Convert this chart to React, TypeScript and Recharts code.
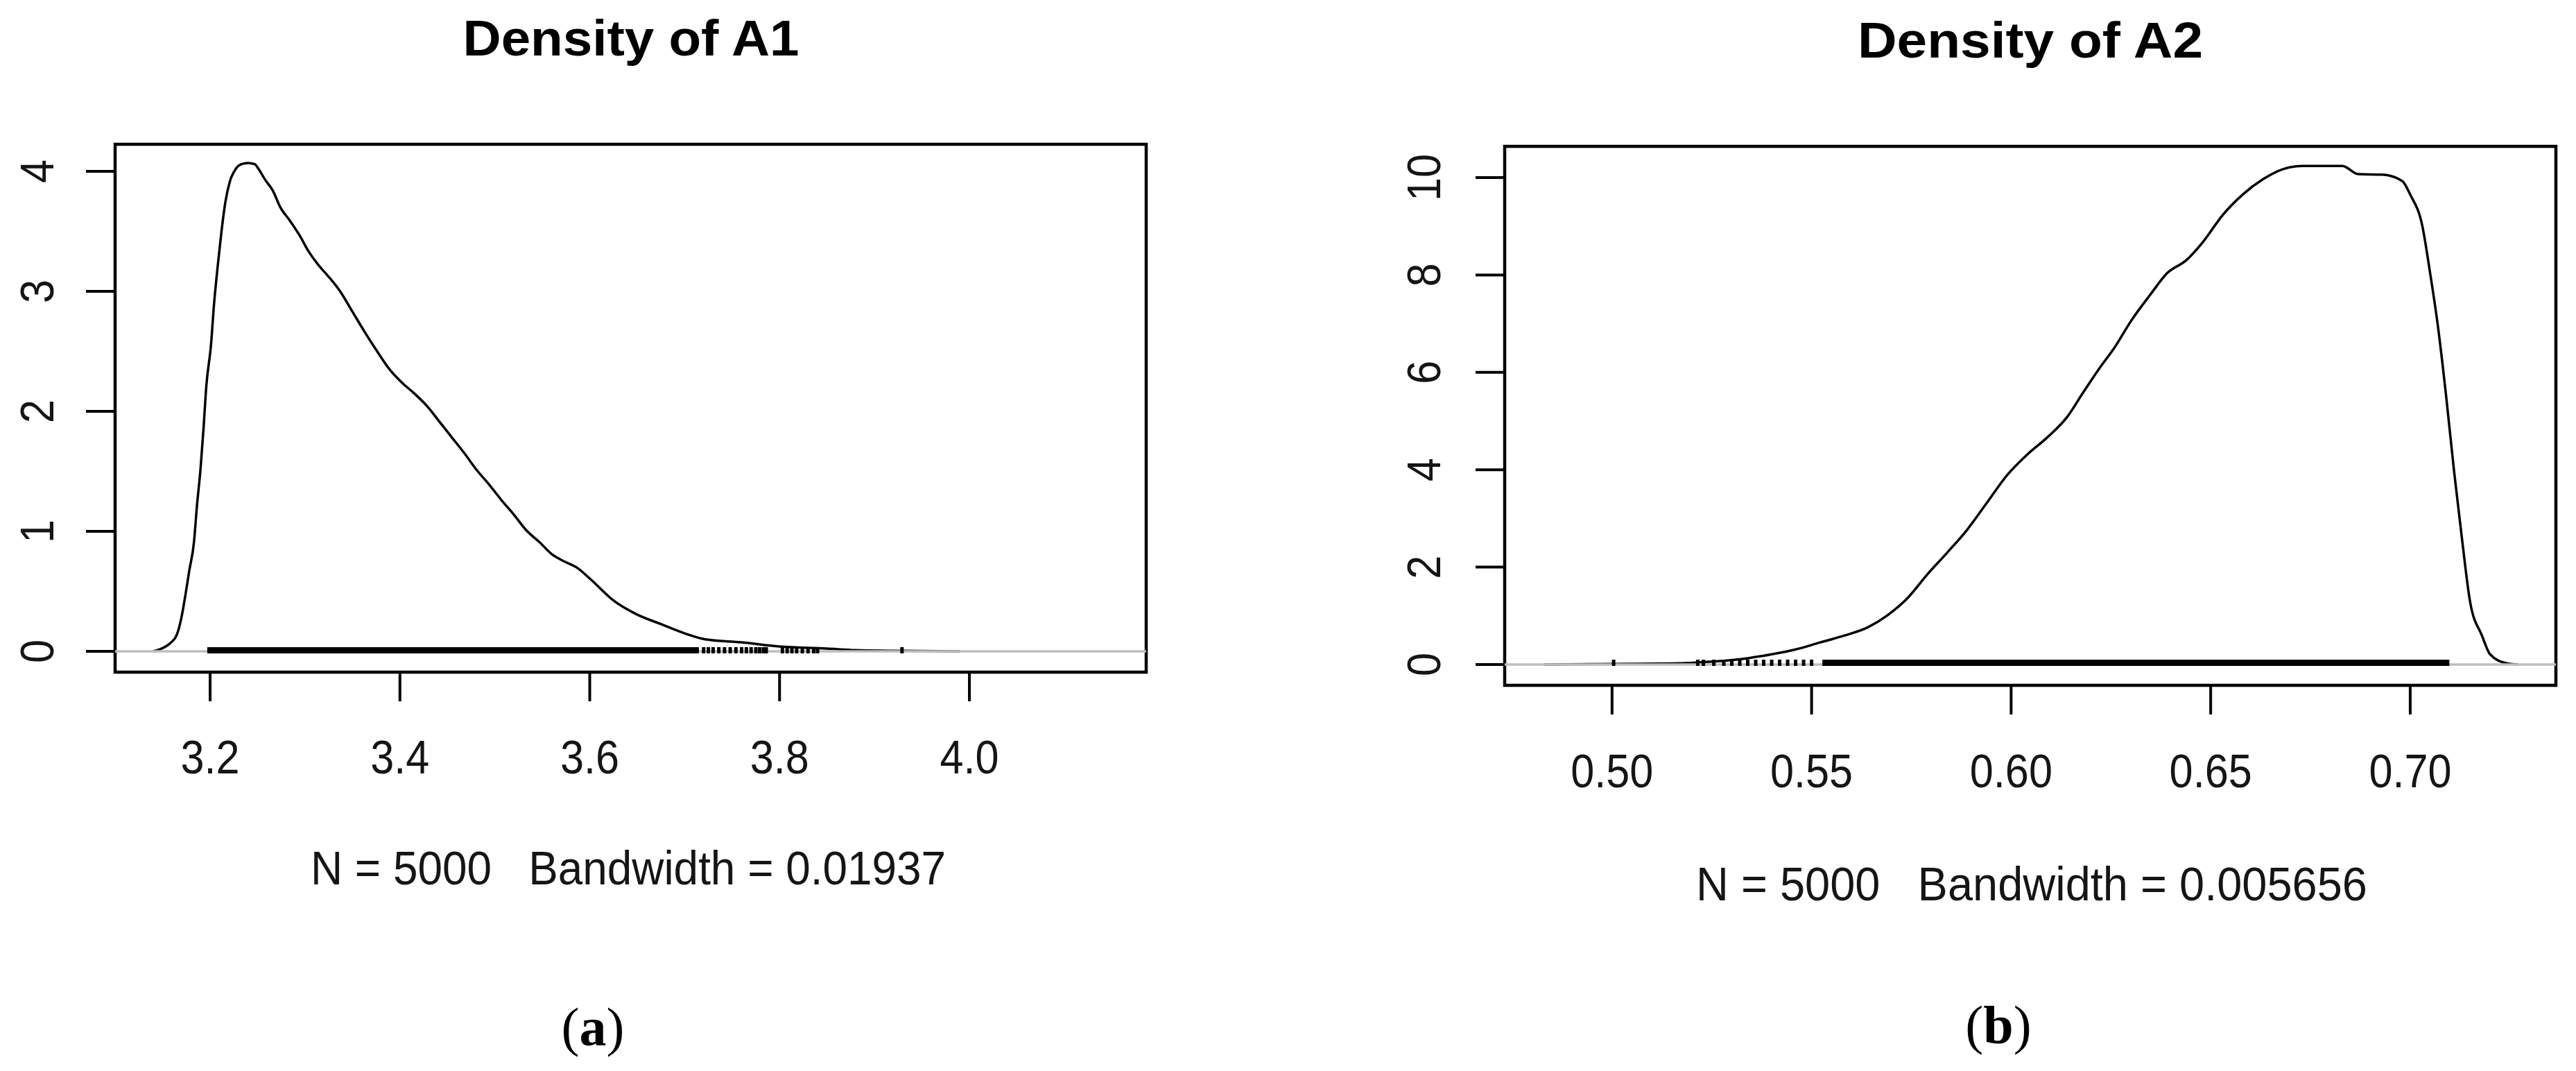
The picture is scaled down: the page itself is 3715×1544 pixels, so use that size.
import React from 'react';
import { LineChart, Line, XAxis, YAxis, ReferenceArea, ReferenceLine } from 'recharts';

// ---------- Data: Density of A1 ----------
const a1X = [3.14, 3.149, 3.158, 3.165, 3.17, 3.174, 3.178, 3.183, 3.186, 3.19, 3.193, 3.196, 3.201, 3.204, 3.208, 3.212, 3.216, 3.221, 3.227, 3.233, 3.24, 3.247, 3.251, 3.258, 3.266, 3.274, 3.284, 3.294, 3.304, 3.314, 3.324, 3.337, 3.35, 3.363, 3.376, 3.389, 3.402, 3.415, 3.429, 3.442, 3.455, 3.468, 3.481, 3.494, 3.507, 3.52, 3.533, 3.547, 3.56, 3.573, 3.586, 3.601, 3.624, 3.649, 3.674, 3.7, 3.722, 3.76, 3.8, 3.85, 3.88, 3.93, 3.99];
const a1Y = [0, 0.024, 0.068, 0.14, 0.29, 0.47, 0.67, 0.91, 1.2, 1.53, 1.85, 2.21, 2.56, 2.88, 3.21, 3.5, 3.74, 3.92, 4.02, 4.06, 4.07, 4.06, 4.02, 3.93, 3.84, 3.7, 3.59, 3.47, 3.33, 3.22, 3.13, 3.0, 2.83, 2.66, 2.5, 2.35, 2.24, 2.15, 2.04, 1.91, 1.78, 1.65, 1.51, 1.39, 1.26, 1.14, 1.01, 0.91, 0.81, 0.75, 0.7, 0.6, 0.43, 0.31, 0.23, 0.15, 0.1, 0.075, 0.04, 0.023, 0.01, 0.004, 0];
const a1XTicks = [3.2, 3.4, 3.6, 3.8, 4.0];
const a1YTicks = [0, 1, 2, 3, 4];
const a1XDomain = [3.0999, 4.1863];
const a1YDomain = [-0.1734, 4.2254];
const a1RugBand = [3.197, 3.715];
const a1RugTicks = [3.72, 3.725, 3.73, 3.736, 3.742, 3.748, 3.754, 3.76, 3.765, 3.77, 3.775, 3.779, 3.783, 3.786, 3.803, 3.808, 3.813, 3.818, 3.824, 3.83, 3.836, 3.84, 3.929];
const a1RugSpan = [-0.017, 0.035];

// ---------- Data: Density of A2 ----------
const a2X = [0.483, 0.5, 0.515, 0.525, 0.534, 0.54, 0.546, 0.552, 0.558, 0.564, 0.569, 0.574, 0.579, 0.584, 0.589, 0.594, 0.599, 0.604, 0.609, 0.614, 0.618, 0.622, 0.626, 0.63, 0.635, 0.639, 0.644, 0.648, 0.653, 0.658, 0.663, 0.668, 0.673, 0.683, 0.687, 0.693, 0.698, 0.7, 0.703, 0.705, 0.707, 0.709, 0.711, 0.713, 0.715, 0.718, 0.72, 0.724, 0.727];
const a2Y = [0, 0.01, 0.02, 0.06, 0.13, 0.21, 0.31, 0.45, 0.59, 0.76, 1.01, 1.36, 1.85, 2.3, 2.77, 3.33, 3.89, 4.31, 4.66, 5.08, 5.58, 6.07, 6.52, 7.05, 7.61, 8.03, 8.31, 8.67, 9.23, 9.65, 9.96, 10.17, 10.24, 10.24, 10.07, 10.06, 9.93, 9.65, 9.02, 8.03, 6.91, 5.51, 3.96, 2.56, 1.29, 0.59, 0.21, 0.03, 0];
const a2XTicks = [0.5, 0.55, 0.6, 0.65, 0.7];
const a2YTicks = [0, 2, 4, 6, 8, 10];
const a2XDomain = [0.4731, 0.7365];
const a2YDomain = [-0.427, 10.641];
const a2RugBand = [0.5527, 0.7098];
const a2RugTicks = [0.5004, 0.5215, 0.5229, 0.5255, 0.528, 0.53, 0.532, 0.534, 0.536, 0.538, 0.54, 0.542, 0.544, 0.546, 0.548, 0.55];
const a2RugSpan = [-0.028, 0.1];

const SANS = '"Liberation Sans", Arial, Helvetica, sans-serif';
const SERIF = '"Liberation Serif", "Times New Roman", serif';

type PanelProps = {
  xs: number[];
  ys: number[];
  xDomain: number[];
  yDomain: number[];
  xTicks: number[];
  yTicks: number[];
  rugBand: number[];
  rugTicks: number[];
  rugSpan: number[];
  fmtX: (v: number) => string;
  left: number;
  width: number;
  height: number;
  margin: { top: number; right: number; bottom: number; left: number };
  yAxisWidth: number;
  xAxisHeight: number;
  xLabelBaseline: number;
  yLabelCenterX: number;
};

function Panel(p: PanelProps) {
  const data = p.xs.map((x, i) => ({ x, y: p.ys[i] }));
  const plotH = p.height - p.margin.top - p.margin.bottom - p.xAxisHeight;
  const pxPerUnit = plotH / (p.yDomain[1] - p.yDomain[0]);
  const bandMid = (p.rugSpan[0] + p.rugSpan[1]) / 2;
  const bandPx = (p.rugSpan[1] - p.rugSpan[0]) * pxPerUnit;
  const XTick = (t: any) => (
    <text
      transform={`translate(${t.x},${p.xLabelBaseline}) scale(0.9,1)`}
      textAnchor="middle"
      fontSize={68}
      fontFamily={SANS}
      fill="#151515"
    >
      {p.fmtX(t.payload.value)}
    </text>
  );
  const YTick = (t: any) => (
    <text
      transform={`translate(${p.yLabelCenterX},${t.y}) rotate(-90) scale(0.9,1)`}
      textAnchor="middle"
      y={24}
      fontSize={68}
      fontFamily={SANS}
      fill="#151515"
    >
      {String(t.payload.value)}
    </text>
  );
  return (
    <div style={{ position: 'absolute', left: p.left, top: 0 }}>
      <LineChart width={p.width} height={p.height} data={data} margin={p.margin}>
        <XAxis
          dataKey="x"
          type="number"
          domain={p.xDomain}
          allowDataOverflow
          ticks={p.xTicks}
          interval={0}
          height={p.xAxisHeight}
          tickSize={42}
          axisLine={false}
          tickLine={{ stroke: '#000', strokeWidth: 4 }}
          tick={XTick}
        />
        <YAxis
          type="number"
          domain={p.yDomain}
          allowDataOverflow
          ticks={p.yTicks}
          interval={0}
          width={p.yAxisWidth}
          tickSize={42}
          axisLine={false}
          tickLine={{ stroke: '#000', strokeWidth: 4 }}
          tick={YTick}
        />
        <Line
          dataKey="y"
          type="monotone"
          stroke="#000"
          strokeWidth={3.5}
          dot={false}
          activeDot={false}
          isAnimationActive={false}
        />
        <ReferenceLine y={0} stroke="#BEBEBE" strokeWidth={3.5} ifOverflow="visible" />
        <ReferenceLine
          segment={[
            { x: p.rugBand[0], y: bandMid },
            { x: p.rugBand[1], y: bandMid },
          ]}
          stroke="#000"
          strokeWidth={bandPx}
          strokeLinecap="butt"
          ifOverflow="visible"
        />
        {p.rugTicks.map((v, i) => (
          <ReferenceLine
            key={'rug' + i}
            segment={[
              { x: v, y: p.rugSpan[0] },
              { x: v, y: p.rugSpan[1] },
            ]}
            stroke="#000"
            strokeWidth={5}
            ifOverflow="visible"
          />
        ))}
        <ReferenceArea
          x1={p.xDomain[0]}
          x2={p.xDomain[1]}
          y1={p.yDomain[0]}
          y2={p.yDomain[1]}
          fill="none"
          fillOpacity={0}
          stroke="#000"
          strokeWidth={4.5}
          ifOverflow="visible"
        />
      </LineChart>
    </div>
  );
}

export default function App() {
  return (
    <div
      style={{
        position: 'absolute',
        left: 0,
        top: 0,
        width: 3715,
        height: 1544,
        background: '#fff',
        overflow: 'hidden',
      }}
    >
      <Panel
        xs={a1X}
        ys={a1Y}
        xDomain={a1XDomain}
        yDomain={a1YDomain}
        xTicks={a1XTicks}
        yTicks={a1YTicks}
        rugBand={a1RugBand}
        rugTicks={a1RugTicks}
        rugSpan={a1RugSpan}
        fmtX={(v) => v.toFixed(1)}
        left={0}
        width={1760}
        height={1160}
        margin={{ top: 208, right: 107, bottom: 41, left: 0 }}
        yAxisWidth={166}
        xAxisHeight={150}
        xLabelBaseline={1115}
        yLabelCenterX={53}
      />
      <Panel
        xs={a2X}
        ys={a2Y}
        xDomain={a2XDomain}
        yDomain={a2YDomain}
        xTicks={a2XTicks}
        yTicks={a2YTicks}
        rugBand={a2RugBand}
        rugTicks={a2RugTicks}
        rugSpan={a2RugSpan}
        fmtX={(v) => v.toFixed(2)}
        left={1900}
        width={1815}
        height={1180}
        margin={{ top: 211, right: 29, bottom: 42, left: 0 }}
        yAxisWidth={270}
        xAxisHeight={150}
        xLabelBaseline={1135}
        yLabelCenterX={153}
      />
      <svg
        width={3715}
        height={1544}
        style={{ position: 'absolute', left: 0, top: 0, pointerEvents: 'none' }}
      >
        <text x={910} y={80} textAnchor="middle" fontSize={72} fontWeight="bold" fontFamily={SANS} fill="#000" textLength={485} lengthAdjust="spacingAndGlyphs">
          Density of A1
        </text>
        <text x={2928} y={83} textAnchor="middle" fontSize={72} fontWeight="bold" fontFamily={SANS} fill="#000" textLength={498} lengthAdjust="spacingAndGlyphs">
          Density of A2
        </text>
        <text x={906} y={1275} textAnchor="middle" fontSize={68} fontFamily={SANS} fill="#151515" textLength={916} lengthAdjust="spacingAndGlyphs" xmlSpace="preserve">
          {'N = 5000   Bandwidth = 0.01937'}
        </text>
        <text x={2930} y={1298} textAnchor="middle" fontSize={68} fontFamily={SANS} fill="#151515" textLength={968} lengthAdjust="spacingAndGlyphs" xmlSpace="preserve">
          {'N = 5000   Bandwidth = 0.005656'}
        </text>
        <text x={855} y={1507} textAnchor="middle" fontSize={78} fontFamily={SERIF} fill="#000">
          (<tspan fontWeight="bold">a</tspan>)
        </text>
        <text x={2882} y={1504} textAnchor="middle" fontSize={78} fontFamily={SERIF} fill="#000">
          (<tspan fontWeight="bold">b</tspan>)
        </text>
      </svg>
    </div>
  );
}
